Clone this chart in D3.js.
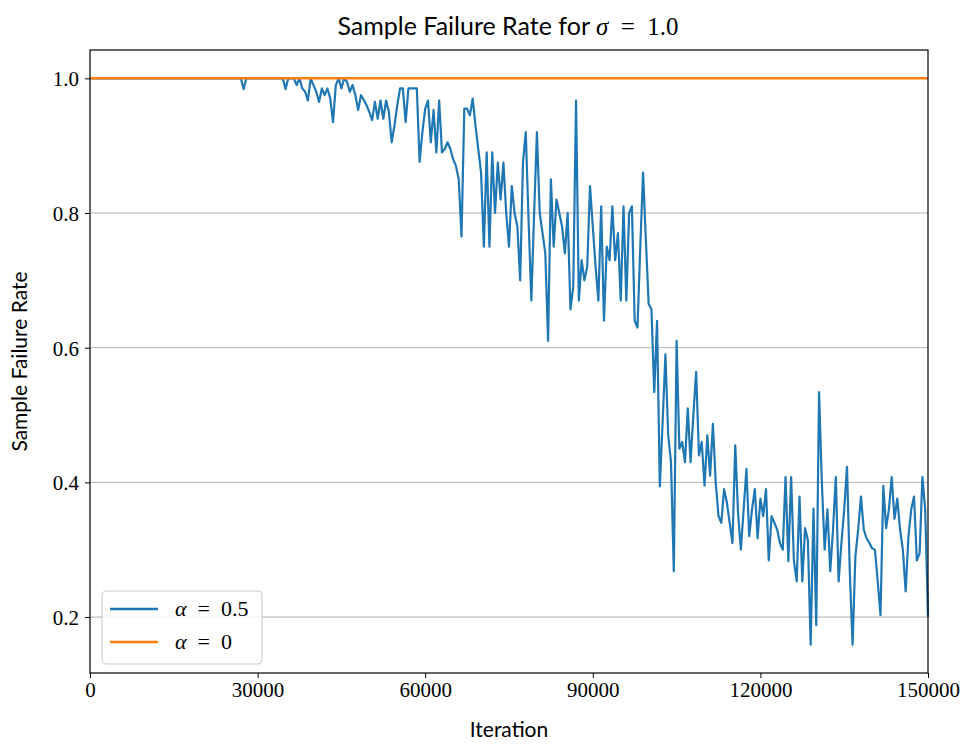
<!DOCTYPE html>
<html>
<head>
<meta charset="utf-8">
<script src="https://cdn.jsdelivr.net/npm/d3@7"></script>
<style>
  html, body { margin: 0; padding: 0; background: #fff; }
  svg { display: block; }
</style>
</head>
<body>
<svg id="chart" width="968" height="745"></svg>
<script>
// ---- data ----
const iterations = d3.range(0, 150001, 500);   // x categories (every 500 iterations)
const rateAlpha05 = [
  1,1,1,1,1,1,1,1,1,1,
  1,1,1,1,1,1,1,1,1,1,
  1,1,1,1,1,1,1,1,1,1,
  1,1,1,1,1,1,1,1,1,1,
  1,1,1,1,1,1,1,1,1,1,
  1,1,1,1,1,0.984,1,1,1,1,
  1,1,1,1,1,1,1,1,1,1,
  0.984,1,1,1,0.99,1,0.985,0.98,0.967,1,
  0.99,0.98,0.965,0.985,0.975,0.985,0.97,0.935,0.99,1,
  0.985,1,0.995,0.98,0.99,0.975,0.953,0.975,0.968,0.96,
  0.95,0.938,0.965,0.94,0.967,0.94,0.967,0.95,0.905,0.93,
  0.96,0.985,0.985,0.935,0.985,0.985,0.985,0.985,0.876,0.92,
  0.955,0.967,0.905,0.953,0.89,0.967,0.89,0.895,0.905,0.895,
  0.88,0.87,0.85,0.765,0.955,0.955,0.945,0.97,0.93,0.895,
  0.86,0.75,0.89,0.75,0.89,0.80,0.875,0.82,0.875,0.80,
  0.75,0.84,0.80,0.78,0.70,0.875,0.92,0.79,0.67,0.80,
  0.92,0.80,0.77,0.74,0.61,0.85,0.75,0.82,0.80,0.78,
  0.74,0.80,0.657,0.69,0.967,0.67,0.73,0.70,0.72,0.84,
  0.78,0.72,0.67,0.81,0.64,0.75,0.73,0.81,0.73,0.77,
  0.67,0.81,0.67,0.80,0.81,0.64,0.63,0.75,0.86,0.76,
  0.665,0.657,0.534,0.64,0.394,0.49,0.59,0.47,0.43,0.268,
  0.61,0.45,0.46,0.43,0.51,0.43,0.50,0.564,0.44,0.46,
  0.395,0.47,0.41,0.487,0.40,0.35,0.34,0.39,0.37,0.34,
  0.31,0.455,0.355,0.30,0.36,0.42,0.32,0.36,0.39,0.317,
  0.376,0.35,0.39,0.284,0.35,0.34,0.33,0.31,0.30,0.408,
  0.283,0.408,0.283,0.253,0.379,0.253,0.332,0.314,0.159,0.361,
  0.188,0.534,0.40,0.30,0.36,0.268,0.33,0.408,0.253,0.31,
  0.36,0.423,0.268,0.159,0.29,0.33,0.379,0.33,0.317,0.31,
  0.302,0.30,0.253,0.203,0.395,0.332,0.36,0.408,0.346,0.376,
  0.33,0.30,0.238,0.32,0.36,0.379,0.284,0.295,0.408,0.36,
  0.20
];
const alpha0Iterations = [0, 150000];
const rateAlpha0 = [1.0, 1.0];
const xTicks = [0, 30000, 60000, 90000, 120000, 150000];
const yTicks = [0.2, 0.4, 0.6, 0.8, 1.0];
const seriesNames = ["0.5", "0"];
const colors = ["#1f77b4", "#ff7f0e"];

// ---- layout ----
const svg = d3.select("#chart");
const margin = {left: 90, right: 40, top: 50, bottom: 72};
const W = 968, H = 745;
const pw = W - margin.left - margin.right;
const ph = H - margin.top - margin.bottom;

const yMin = d3.min(rateAlpha05), yMax = 1.0;
const pad = (yMax - yMin) * 0.05;
const x = d3.scaleLinear().domain([0, 150000]).range([margin.left, margin.left + pw]);
const y = d3.scaleLinear().domain([yMin - pad, yMax + pad]).range([margin.top + ph, margin.top]);

const serif = "'Liberation Serif', 'DejaVu Serif', serif";
const sans = "Lato, 'Open Sans', sans-serif";

// grid
svg.append("g").selectAll("line").data(yTicks).join("line")
  .attr("x1", margin.left).attr("x2", margin.left + pw)
  .attr("y1", d => y(d)).attr("y2", d => y(d))
  .attr("stroke", "#b0b0b0").attr("stroke-width", 1);

// lines
const line05 = d3.line().x((d, i) => x(iterations[i])).y(d => y(d));
svg.append("path").datum(rateAlpha05)
  .attr("d", line05).attr("fill", "none")
  .attr("stroke", colors[0]).attr("stroke-width", 2.2).attr("stroke-linejoin", "round");
const line0 = d3.line().x((d, i) => x(alpha0Iterations[i])).y(d => y(d));
svg.append("path").datum(rateAlpha0)
  .attr("d", line0).attr("fill", "none")
  .attr("stroke", colors[1]).attr("stroke-width", 2.4);

// axes
const xAxis = d3.axisBottom(x).tickValues(xTicks).tickFormat(d3.format("d")).tickSize(5).tickPadding(4);
const gx = svg.append("g").attr("transform", `translate(0,${margin.top + ph})`).call(xAxis);
const yAxis = d3.axisLeft(y).tickValues(yTicks).tickFormat(d3.format(".1f")).tickSize(5).tickPadding(6);
const gy = svg.append("g").attr("transform", `translate(${margin.left},0)`).call(yAxis);
[gx, gy].forEach(g => {
  g.select(".domain").remove();
  g.selectAll(".tick line").attr("stroke", "#000").attr("stroke-width", 1);
  g.selectAll(".tick text").attr("fill", "#000").attr("font-family", serif).attr("font-size", 21);
});
gy.selectAll(".tick text").attr("dy", "0.35em");

// frame
svg.append("rect").attr("x", margin.left).attr("y", margin.top)
  .attr("width", pw).attr("height", ph)
  .attr("fill", "none").attr("stroke", "#000").attr("stroke-width", 1.2);

// title
const title = svg.append("text").attr("x", margin.left + pw / 2 - 1).attr("y", 35)
  .attr("text-anchor", "middle").attr("font-size", 25).attr("fill", "#000");
title.append("tspan").attr("font-family", sans).text("Sample Failure Rate for ");
title.append("tspan").attr("font-family", serif).attr("font-style", "italic").text("σ");
title.append("tspan").attr("font-family", serif).text("\u2002=\u20021.0");

// axis labels
svg.append("text").attr("x", margin.left + pw / 2).attr("y", 737)
  .attr("text-anchor", "middle").attr("font-family", sans).attr("font-size", 21)
  .attr("fill", "#000").text("Iteration");
svg.append("text").attr("transform", `translate(27,${margin.top + ph / 2}) rotate(-90)`)
  .attr("text-anchor", "middle").attr("font-family", sans).attr("font-size", 21)
  .attr("fill", "#000").text("Sample Failure Rate");

// legend
const lg = svg.append("g").attr("transform", "translate(102,591)");
lg.append("rect").attr("width", 160).attr("height", 73).attr("rx", 4)
  .attr("fill", "#fff").attr("fill-opacity", 0.8).attr("stroke", "#cccccc").attr("stroke-width", 1);
seriesNames.forEach((name, i) => {
  const yy = 18 + i * 33;
  lg.append("line").attr("x1", 8).attr("x2", 56).attr("y1", yy).attr("y2", yy)
    .attr("stroke", colors[i]).attr("stroke-width", 2.4);
  const t = lg.append("text").attr("x", 73).attr("y", yy + 7)
    .attr("font-family", serif).attr("font-size", 22).attr("fill", "#000");
  t.append("tspan").attr("font-style", "italic").text("α");
  t.append("tspan").text("\u2002=\u2002" + name);
});
</script>
</body>
</html>
